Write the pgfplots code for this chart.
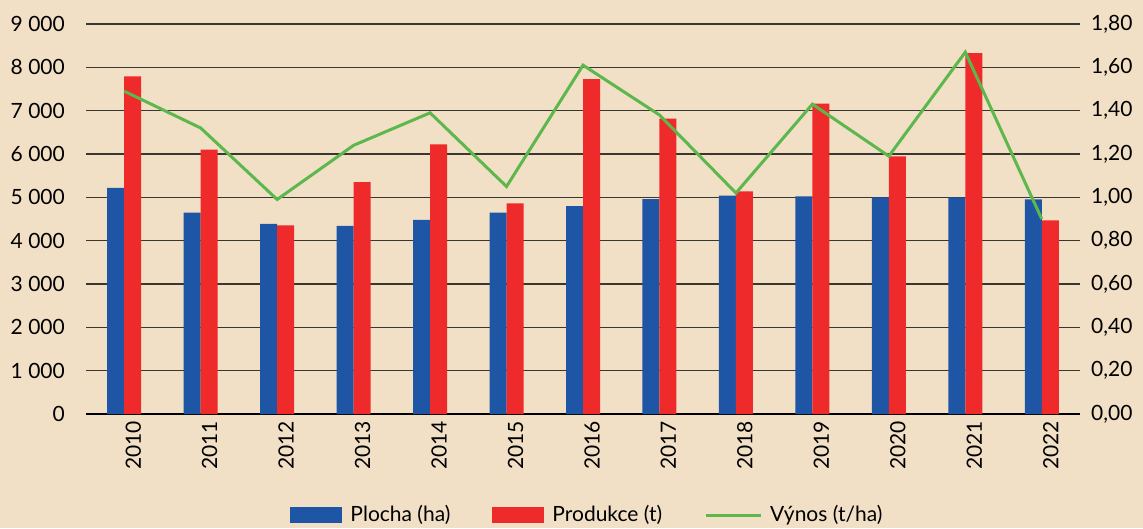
\documentclass[border=0pt]{standalone}
\usepackage{pgfplots}
\pgfplotsset{compat=1.18}
\usepackage{fontspec}
\setmainfont{Lato}
\definecolor{bg}{HTML}{F1E0C6}
\definecolor{cblue}{HTML}{1E55A5}
\definecolor{cred}{HTML}{EE2A2A}
\definecolor{cgreen}{HTML}{5CB84C}
\definecolor{cgrid}{HTML}{3A3630}
\begin{document}
\fontsize{21}{25}\selectfont
\begin{tikzpicture}[x=1pt,y=1pt]
\fill[bg] (0,0) rectangle (1143,528);
\useasboundingbox (0,0) rectangle (1143,528);
\begin{axis}[
  at={(86pt,114pt)}, anchor=south west,
  scale only axis, width=994pt, height=390pt,
  xmin=-0.5, xmax=12.5, ymin=0, ymax=9000,
  ybar=0pt, bar width=17pt,
  axis x line*=bottom, axis y line*=left,
  x axis line style={line width=2pt, black, -},
  y axis line style={draw=none},
  major tick length=0pt,
  ymajorgrids, grid style={cgrid, line width=1.2pt},
  ytick={0,1000,2000,3000,4000,5000,6000,7000,8000,9000},
  yticklabels={0,1 000,2 000,3 000,4 000,5 000,6 000,7 000,8 000,9 000},
  xtick={0,1,2,3,4,5,6,7,8,9,10,11,12},
  xticklabels={2010,2011,2012,2013,2014,2015,2016,2017,2018,2019,2020,2021,2022},
  xticklabel style={rotate=90, anchor=east, yshift=-9pt},
  yticklabel style={xshift=-14pt},
  /pgf/number format/assume math mode=true,
  legend style={at={(0.5045,-0.259)}, anchor=center, draw=none, fill=none,
    legend columns=3, /tikz/every even column/.append style={column sep=40pt}},
]
\addplot[fill=cblue, draw=none, legend image code/.code={\fill[cblue] (0pt,-8pt) rectangle (52pt,8pt);}] coordinates {
(0,5220) (1,4650) (2,4385) (3,4340) (4,4480) (5,4645) (6,4800) (7,4960) (8,5040) (9,5025) (10,5000) (11,5000) (12,4955)};
\addlegendentry{\hspace{6pt}Plocha (ha)}
\addplot[fill=cred, draw=none, legend image code/.code={\fill[cred] (0pt,-8pt) rectangle (52pt,8pt);}] coordinates {
(0,7790) (1,6100) (2,4355) (3,5350) (4,6220) (5,4860) (6,7730) (7,6815) (8,5140) (9,7160) (10,5945) (11,8330) (12,4470)};
\addlegendentry{\hspace{6pt}Produkce (t)}
\addlegendimage{legend image code/.code={\draw[cgreen, line width=3pt] (0pt,0pt) -- (55pt,0pt);}}
\addlegendentry{\hspace{6pt}Výnos (t/ha)}
\end{axis}
\begin{axis}[
  at={(86pt,114pt)}, anchor=south west,
  scale only axis, width=994pt, height=390pt,
  xmin=-0.5, xmax=12.5, ymin=0, ymax=1.8,
  axis x line=none, axis y line*=right,
  y axis line style={draw=none},
  major tick length=0pt,
  ytick={0,0.2,0.4,0.6,0.8,1.0,1.2,1.4,1.6,1.8},
  yticklabels={{0,00},{0,20},{0,40},{0,60},{0,80},{1,00},{1,20},{1,40},{1,60},{1,80}},
  yticklabel style={xshift=4pt},
]
\addplot[cgreen, line width=3pt, mark=none] coordinates {
(0,1.49) (1,1.32) (2,0.99) (3,1.24) (4,1.39) (5,1.05) (6,1.61) (7,1.38) (8,1.02) (9,1.43) (10,1.19) (11,1.67) (12,0.90)};
\end{axis}
\end{tikzpicture}
\end{document}
